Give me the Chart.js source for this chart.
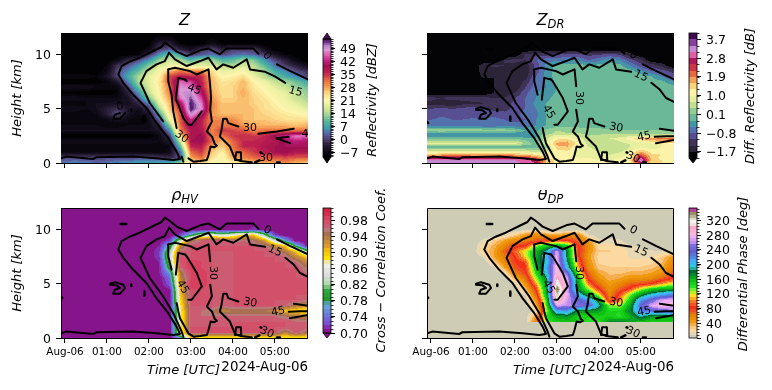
<!DOCTYPE html>
<html>
<head>
<meta charset="utf-8">
<style>
  html, body { margin: 0; background: #fff; }
  canvas { position: absolute; }
</style>
<script src="https://cdn.jsdelivr.net/npm/chart.js@4"></script>
</head>
<body>
<script>
// hours after 00:00 UTC, shared by all four fields
const times = [0, .25, .5, .75, 1, 1.25, 1.5, 1.75, 2, 2.25, 2.5, 2.75, 3, 3.25, 3.5, 3.75, 4, 4.25, 4.5, 4.75, 5, 5.25, 5.5, 5.75];
const timeTicks = [0, 1, 2, 3, 4, 5];
const timeLabels = ["Aug-06", "01:00", "02:00", "03:00", "04:00", "05:00"];
const heightTicks = [0, 5, 10];

const zHeights = [12, 11.5, 11, 10.5, 10, 9.5, 9, 8.5, 8, 7.5, 7, 6.5, 6, 5.5, 5, 4.5, 4, 3.5, 3, 2.5, 2, 1.5, 1, .5, 0];
const zValues = [
  [-9,-9,-9,-9,-9,-9,-9,-9,-9,-9,-9,-9,-9,-9,-9,-9,-9,-9,-9,-9,-9,-9,-9,-9],
  [-9,-9,-9,-9,-9,-9,-9,-9,-9,-7,-7,-9,-9,-9,-8,-9,-9,-9,-9,-9,-9,-9,-9,-9],
  [-9,-9,-9,-9,-9,-9,-9,-9,-9,-3,-3,-8,-9,-9,-6,-8,-8,-8,-8,-9,-9,-9,-9,-9],
  [-9,-9,-9,-9,-9,-9,-9,-9,-7,0,2,-3,-6,-1,1,-3,0,0,0,-6,-9,-9,-9,-9],
  [-9,-9,-9,-9,-9,-9,-9,-8,-1,6,12,7,0,2,4,1,3,4,3,0,-5,-8,-9,-9],
  [-9,-9,-9,-9,-9,-7,-2,1,6,13,17,14,9,14,14,9,10,14,12,6,1,-3,-7,-9],
  [-9,-9,-9,-9,-8,-1,2,6,12,17,19,19,17,18,17,15,14,17,15,10,4,0,-3,-6],
  [-9,-9,-9,-9,-7,1,5,10,16,20,27,31,29,30,24,18,19,21,16,14,8,5,1,-1],
  [-7,-7,-7,-8,-5,1,8,14,18,22,34,37,36,36,26,21,22,24,19,15,11,8,5,1],
  [-9,-9,-9,-9,-8,-4,5,14,18,23,34,46,44,37,27,23,24,27,22,19,16,14,11,8],
  [-6,-6,-6,-7,-7,-8,0,11,17,23,31,48,47,38,27,24,25,27,23,21,18,16,13,11],
  [-9,-9,-9,-9,-9,-8,-3,6,16,22,31,49,50,41,28,24,25,28,24,22,20,18,16,13],
  [-6,-6,-7,-7,-7,-7,-5,2,12,21,29,47,52,44,29,25,25,27,25,23,21,19,16,14],
  [-8,-8,-7,-6,-6,-5,-6,-2,5,18,27,40,54,47,30,26,26,27,25,24,22,20,18,16],
  [-6,-6,-7,-6,-3,-1,-4,-6,-1,14,26,36,54,48,30,26,26,27,26,24,23,21,20,18],
  [-8,-8,-8,-7,-3,2,-5,-7,-5,8,23,33,50,42,29,27,27,27,26,25,24,23,22,21],
  [-8,-8,-8,-8,-7,-5,-7,-8,-6,3,20,33,43,37,30,30,30,27,26,26,25,24,24,24],
  [-7,-7,-7,-7,-8,-8,-7,-7,-7,-2,13,32,41,37,30,31,31,29,28,27,27,27,26,27],
  [-6,-6,-6,-6,-6,-6,-6,-6,-6,-5,6,30,38,38,30,35,34,33,30,31,31,31,31,31],
  [-9,-9,-9,-9,-9,-9,-9,-9,-9,-7,0,24,38,40,31,31,35,36,35,36,40,43,47,46],
  [-6,-6,-6,-6,-6,-6,-6,-6,-6,-7,-4,16,39,40,32,27,32,36,36,37,38,40,42,41],
  [-8,-8,-8,-8,-8,-8,-8,-8,-8,-8,-7,10,36,37,28,25,31,36,36,38,39,40,40,40],
  [-7,-7,-7,-7,-7,-7,-7,-7,-7,-8,-6,3,32,35,26,22,30,32,35,37,39,40,38,38],
  [1,1,0,1,1,1,1,1,1,0,-2,2,28,32,24,20,28,30,32,33,33,34,33,33],
  [4,5,5,3,4,5,6,7,7,8,9,13,24,26,20,20,22,24,27,28,28,30,27,26]
];

const zdrHeights = [12, 10.5, 10, 9.5, 9, 8.5, 8, 7.5, 7, 6.5, 6, 5.5, 5, 4.5, 4, 3.5, 3, 2.75, 2.5, 2.25, 2, 1.75, 1.5, 1.25, 1, .75, .5, .25, 0];
const zdrValues = [
  [-2,-2,-2,-2,-2,-2,-2,-2,-2,-2,-2,-2,-2,-2,-2,-2,-2,-2,-2,-2,-2,-2,-2,-2],
  [-2,-2,-2,-2,-2,-2,-2,-2,-2,-2,-2,-2,-2,-2,-2,-2,-2,-2,-2,-2,-2,-2,-2,-2],
  [-2,-2,-2,-2,-2,-2,-2,-2,-2,-1.3,-1.2,-1.2,-1.1,-1,-1,-1.2,-1.1,-1,-1.1,-1.6,-2,-2,-2,-2],
  [-2,-2,-2,-2,-2,-2,-2,-1.4,-1.3,-1.4,-.8,-.6,-.6,-.5,-.5,-.8,-.6,-.3,-.5,-1,-1.3,-2,-2,-2],
  [-2,-2,-2,-2,-2,-1.5,-1.3,-1.4,-1.5,-1.6,-1,-.4,-.1,-.1,-.1,-.1,-.1,-.1,-.1,-.5,-1,-1.2,-1.5,-2],
  [-2,-2,-2,-2,-2,-1.5,-1.6,-1.7,-1.7,-1.6,-1,-.4,-.05,-.05,-.05,-.05,-.05,-.05,-.05,-.05,-.4,-.8,-1,-1.2],
  [-2,-2,-2,-2,-2,-1.6,-1.7,-1.7,-1.7,-1.6,-.8,-.4,-.05,-.05,-.05,-.05,-.05,-.05,-.05,-.05,-.05,-.2,-.5,-.9],
  [-2,-2,-2,-2,-2,-2,-1.7,-1.7,-1.7,-1.3,-.7,-.45,-.1,-.05,-.05,-.05,-.05,-.05,-.05,-.05,-.05,-.05,-.1,-.4],
  [-2,-2,-2,-2,-2,-2,-1.7,-1.7,-1.7,-1.1,-.6,-.5,-.2,-.05,-.05,-.05,-.05,-.05,-.05,-.05,-.05,-.05,-.05,-.05],
  [-2,-2,-2,-2,-2,-2,-1.7,-1.6,-1.4,-.9,-.5,-.4,-.15,-.05,-.05,-.05,-.05,-.05,-.05,-.05,-.05,-.05,-.05,-.05],
  [-1.3,-1.4,-1.2,-1.3,-1.2,-1.3,-1.4,-1.4,-1.1,-.8,-.5,-.3,-.05,-.05,-.05,-.05,-.05,-.05,-.05,-.05,-.05,-.05,-.05,-.05],
  [-1.5,-1.6,-1.7,-1.5,-1.5,-1.4,-1.3,-1.3,-1,-.8,-.4,-.2,-.05,-.05,-.05,-.05,-.05,-.05,-.05,-.05,-.05,-.05,-.05,-.05],
  [-1.1,-1,-1.1,-1,-.9,-1,-1.2,-1.2,-1,-.8,-.5,-.2,-.05,-.05,-.05,-.05,-.05,-.05,-.05,-.05,-.05,-.05,-.05,-.05],
  [-1,-.9,-.9,-1,-1.1,-.9,-.9,-1,-1,-.6,-.6,-.2,-.05,-.05,-.05,-.05,-.05,-.05,-.05,-.05,-.05,-.05,-.05,-.05],
  [-.8,-.7,-.8,-.8,-.7,-.8,-.7,-.8,-.9,-.8,-.5,-.2,-.05,-.05,-.05,-.05,-.05,-.05,-.05,-.05,-.05,-.05,-.05,-.05],
  [-.7,-.8,-.7,-.7,-.7,-.8,-.8,-.7,-.7,-.7,-.5,-.2,-.05,-.05,-.05,-.05,-.05,-.05,-.05,-.05,-.05,-.05,-.05,-.05],
  [.3,.35,.3,.3,.3,.3,.3,.3,.1,-.2,-.3,.2,.4,.3,.3,.2,.2,.15,.1,.1,.1,.1,.1,.1],
  [-.3,-.3,-.3,-.3,-.3,-.3,-.3,-.3,-.3,-.3,-.2,.2,.5,.4,.4,.3,.3,.3,.3,.3,.3,.3,.3,.3],
  [-.4,-.4,-.4,-.4,-.4,-.4,-.4,-.4,-.4,-.4,-.3,.5,.9,.9,.7,.4,.5,.55,.6,.6,.7,.7,.7,.7],
  [.1,.1,.1,.1,.1,.1,.1,.1,.1,-.1,-.2,.6,1.2,1.2,.9,.5,.6,.7,.8,1.2,1.6,1.9,2,2.1],
  [.5,.5,.5,.5,.5,.5,.5,.5,.5,.2,-.1,.7,1.5,1.6,1.1,.5,.5,.55,.7,.9,1.1,1.4,1.5,1.6],
  [.9,.9,.9,.9,.9,.9,.9,.9,.9,.3,0,.6,1.7,1.7,1.2,.6,.5,.5,.6,.7,.8,.9,1,1.1],
  [-.3,-.3,-.3,-.3,-.3,-.3,-.3,-.3,-.3,-.2,-.1,.3,1.5,1.6,1,.7,.5,.5,.5,.7,.9,.8,1,1],
  [.4,.4,.4,.4,.4,.4,.4,.4,.4,.4,.3,.5,1.3,1.4,1,.8,.6,.5,.5,.8,1.3,1,1.1,1],
  [1,1,1,1,1,1,1,1,1,.9,.7,.8,1.1,1.2,.9,.8,.7,.6,.7,1,1.7,1.2,1.2,1.2],
  [1.5,1.7,1.9,1.8,1.7,1.7,1.7,1.8,1.7,1.6,1.3,1,1,1.1,.9,.8,.8,.7,.8,1.1,2.2,1.4,1.3,1.3],
  [2.3,2.5,2.6,2.5,2.5,2.4,2.4,2.5,2.5,2.4,2,1.2,1.1,1.1,1,1,.9,.8,1,1.2,2.8,1.5,1.2,1.2],
  [3.1,3.1,3.1,3.1,3.1,3.1,3.1,3.1,3.1,3,2.6,1.6,1.2,1.2,1.1,1.1,1,1,1.1,1.3,3.3,1.5,1.3,1.2],
  [3.2,3.2,3.2,3.2,3.2,3.2,3.2,3.2,3.2,3,2.8,1.5,1.2,1.2,1.1,1.1,1,1,1.1,1.2,2.5,1.4,1.3,1.2]
];

// rho in hundredths
const rhoHeights = [12, 10.5, 10, 9.5, 9, 8.5, 8, 7.5, 7, 6.5, 6, 5.5, 5, 4.5, 4, 3.5, 3, 2.5, 2, 1.5, 1, .5, 0];
const rhoValues = [
  [70,70,70,70,70,70,70,70,70,70,70,70,70,70,70,70,70,70,70,70,70,70,70,70],
  [70,70,70,70,70,70,70,70,70,70,70,70,70,70,70,70,70,70,70,70,70,70,70,70],
  [70,70,70,70,70,70,70,70,70,70,70,70,70,70,70,70,70,70,72,70,70,70,70,70],
  [70,70,70,70,70,70,70,70,70,70,70,72,78,84,86,84,86,90,90,82,72,70,70,70],
  [70,70,70,70,70,70,70,70,70,70,72,84,94,96,97,96,95,96,95,92,84,76,70,70],
  [70,70,70,70,70,70,70,70,70,71,78,93,97,97,97,97,97,97,97,96,93,90,78,71],
  [70,70,70,70,70,70,70,70,70,72,82,96,97,97,97,97,97,97,97,97,96,94,90,82],
  [70,70,70,70,70,70,70,70,70,72,84,97,97,97,97,96,97,97,97,97,97,96,93,90],
  [70,70,70,70,70,70,70,70,70,71,82,97,99,98,97,97,97,97,97,97,97,97,96,93],
  [70,70,70,70,70,70,70,70,70,71,80,96,99,98,97,96,97,97,97,97,97,97,97,95],
  [70,70,70,70,70,70,70,70,70,71,76,94,98,99,97,96,97,97,97,97,97,97,97,96],
  [70,70,70,70,70,70,70,70,70,70,74,93,98,99,97,96,97,97,97,97,97,97,97,97],
  [70,70,70,70,70,70,70,70,70,70,73,92,99,99,97,96,97,97,97,97,97,97,97,97],
  [70,70,70,70,70,70,70,70,70,70,71,90,98,98,97,96,97,97,97,97,97,97,97,97],
  [70,70,70,70,70,70,70,70,70,70,70,90,97,97,97,96,97,97,97,97,97,97,97,97],
  [70,70,70,70,70,70,70,70,70,70,70,89,97,97,97,96,97,97,97,97,97,97,97,96],
  [70,70,70,70,70,70,70,70,70,70,70,88,97,97,97,96,97,97,97,97,97,96,94,92],
  [70,70,70,70,70,70,70,70,70,70,70,87,97,96,95,93,94,94,94,94,93,90,89,88],
  [70,70,70,70,70,70,70,70,70,70,70,87,97,96,96,96,96,96,96,96,96,95,94,93],
  [70,70,70,70,70,70,70,70,70,70,70,87,97,96,96,96,97,97,97,97,97,97,96,96],
  [70,70,70,70,70,70,70,70,70,70,70,87,97,97,97,97,97,97,97,97,97,97,97,97],
  [70,70,70,70,70,70,70,70,70,70,70,87,97,97,97,97,97,97,97,97,97,93,97,94],
  [70,70,70,70,70,70,70,70,70,70,70,76,89,87,88,88,88,88,88,88,88,88,88,88]
];

const phiHeights = [12, 10.5, 10, 9.5, 9, 8.5, 8, 7.5, 7, 6.5, 6, 5.5, 5, 4.5, 4, 3.5, 3, 2.5, 2, 1.5, 1.44, 0];
const phiValues = [
  [0,0,0,0,0,0,0,0,0,0,0,0,0,0,0,0,0,0,0,0,0,0,0,0],
  [0,0,0,0,0,0,0,0,0,0,0,0,0,0,0,0,0,0,0,0,0,0,0,0],
  [0,0,0,0,0,0,0,0,0,5,10,0,0,0,0,0,0,0,0,0,0,0,0,0],
  [0,0,0,0,0,0,0,10,25,45,55,45,40,50,55,10,0,0,0,0,0,0,0,0],
  [0,0,0,0,0,10,25,40,55,60,70,80,90,85,70,45,10,10,10,0,0,0,0,0],
  [0,0,0,0,0,20,35,55,80,85,130,150,165,150,85,55,20,20,15,10,5,0,0,0],
  [0,0,0,0,0,25,40,70,95,120,155,190,270,175,90,50,25,25,20,15,10,10,8,5],
  [0,0,0,0,0,10,40,60,85,115,160,205,275,175,90,45,20,20,20,15,15,15,25,45],
  [0,0,0,0,0,0,25,55,80,90,165,195,280,185,100,50,22,20,18,18,18,20,30,55],
  [0,0,0,0,0,0,5,40,75,85,150,210,285,200,110,55,28,25,25,25,25,30,40,60],
  [0,0,0,0,0,0,0,15,60,80,140,200,290,245,130,70,40,30,30,35,35,40,50,70],
  [0,0,0,0,0,0,0,0,35,65,125,180,305,265,160,80,50,35,40,50,50,55,70,85],
  [0,0,0,0,0,0,0,0,5,50,105,170,320,270,170,100,65,45,55,70,75,85,105,120],
  [0,0,0,0,0,0,0,0,0,30,85,165,350,265,175,130,85,50,70,90,125,150,160,165],
  [0,0,0,0,0,0,0,0,0,10,70,160,330,275,205,165,120,55,90,130,170,195,210,225],
  [0,0,0,0,0,0,0,0,0,0,50,145,320,265,240,215,170,65,100,150,215,240,270,275],
  [0,0,0,0,0,0,0,0,0,0,35,135,270,260,250,240,190,130,125,165,235,270,285,285],
  [0,0,0,0,0,0,0,0,0,0,10,125,210,215,170,170,165,145,145,175,220,230,240,250],
  [0,0,0,0,0,0,0,0,0,0,40,140,165,170,150,145,150,150,140,160,190,170,165,165],
  [0,0,0,0,0,0,0,0,0,0,60,130,150,155,150,140,140,170,175,165,155,150,150,150],
  [0,0,0,0,0,0,0,0,0,0,0,0,0,0,0,0,0,0,0,0,0,0,0,0],
  [0,0,0,0,0,0,0,0,0,0,0,0,0,0,0,0,0,0,0,0,0,0,0,0]
];

// reflectivity contours as [hour, km], same in every panel
const contour0 = [[-.09,.43],[.03,.59],[.67,.37],[.75,.53],[1.62,.59],[2.18,.43],[2.58,.28],[2.74,.37],[2.66,1.05],[2.46,2.29],[2.18,3.68],[1.94,5.08],[1.62,6.32],[1.39,7.4],[1.27,8.17],[1.35,8.95],[1.54,9.35],[1.78,9.72],[2.1,10.34],[2.3,10.71],[2.38,11.11],[2.5,10.8],[2.66,10.28],[2.9,9.88],[3.22,10.4],[3.42,10.56],[3.69,10.03],[3.85,10.56],[4.17,10.56],[4.49,10.56],[4.61,10.09],[4.83,9.9],[5.05,9.1],[5.37,8.48],[5.8,7.7]];
const contour0Blob = [[1.07,5.02],[1.19,5.14],[1.39,4.92],[1.43,4.61],[1.31,4.09],[1.15,4.09],[1.19,4.46],[1.31,4.61],[1.23,4.86],[1.07,4.92]];
const contour0Dots = [[[1.33,10.53],[1.46,10.53]], [[1.89,4.3],[1.89,3.9]], [[1.58,4.95],[1.58,4.8]], [[-.09,3.8],[-.07,3.7]]];
const contour15 = [[2.82,.12],[2.78,.59],[2.58,2.29],[2.34,3.84],[2.02,5.54],[1.8,7.4],[1.94,8.48],[2.18,9.1],[2.38,9.41],[2.48,10.19],[2.62,9.57],[2.9,8.95],[3.22,9.41],[3.42,9.72],[3.61,8.64],[3.77,9.1],[4.01,8.79],[4.33,9.57],[4.41,8.64],[4.77,8.42],[5,8],[5.25,7.4],[5.45,6.78],[5.6,6],[5.8,5.63]];
const contour30 = [[2.46,8.64],[2.62,8.79],[2.98,8.48],[3.14,8.17],[3.42,8.64],[3.46,7.09],[3.48,6],[3.46,4.92],[3.5,3.84],[3.38,2.91],[3.5,2.45],[3.57,1.75],[3.62,1.6],[3.55,1.45],[3.47,1.52],[3.42,.74],[3.38,.28],[3.22,.19],[3.06,.12],[2.94,.43],[2.74,1.83],[2.7,2.45],[2.66,3.22],[2.58,4.77],[2.54,6.3],[2.46,7.55],[2.46,8.64]];
const contour30East = [[4.45,.06],[4.17,.19],[4.05,.37],[3.93,1.52],[3.69,2.45],[3.73,3.07],[3.77,4.09],[3.85,4.09],[3.89,3.68],[4.13,3.37]];
const contour30Loop = [[4.05,.28],[4.08,.99],[4.19,.99],[4.2,.28],[4.05,.28]];
const contour30Upper = [[4.61,2.69],[5.05,2.91],[5.45,3.16],[5.8,2.97]];
const contour30Dots = [[[4.53,.06],[4.63,.25]], [[4.66,.99],[4.68,.95]], [[5.05,.05],[5.12,.05]]];
const contour45 = [[2.86,7.71],[2.7,7.86],[2.64,5.85],[2.7,5.39],[2.82,4.15],[2.94,3.53],[3.02,3.53],[3.26,4.77],[3.14,6],[3.02,6.78],[2.9,7.55],[2.86,7.71]];
const contour45East = [[5.04,2.29],[5.33,2.42],[5.6,2.48],[5.8,2.47]];
const contour45EastLow = [[5.8,2.13],[5.36,1.83],[5.04,2.29]];

// inline contour labels: [hour, km, text, rotation]
const labelsReflectivity = [[1.31,5.19,"0",-5],[1.88,4,"0",0],[4.81,9.88,"0",50],[5.49,6.57,"15",15],[3.08,6.79,"45",20],[2.78,2.4,"30",35],[4.41,3.24,"30",0],[4.79,.46,"30",0],[5.8,2.62,"45",0]];
const labelsOther = [[4.82,9.95,"0",30],[5,8.02,"15",25],[3.53,6,"30",90],[2.8,4.7,"45",60],[4.41,3.25,"30",12],[5.08,2.42,"45",-12],[4.81,.5,"30",25]];

const zTicks = [-7, 0, 7, 14, 21, 28, 35, 42, 49];
const zTickLabels = ["\u22127", "0", "7", "14", "21", "28", "35", "42", "49"];
const zdrTicks = [-1.7, -.8, .1, 1, 1.9, 2.8, 3.7];
const zdrTickLabels = ["\u22121.7", "\u22120.8", "0.1", "1.0", "1.9", "2.8", "3.7"];
const rhoTicks = [70, 74, 78, 82, 86, 90, 94, 98];
const rhoTickLabels = ["0.70", "0.74", "0.78", "0.82", "0.86", "0.90", "0.94", "0.98"];
const phiTicks = [0, 40, 80, 120, 160, 200, 240, 280, 320];
const phiTickLabels = ["0", "40", "80", "120", "160", "200", "240", "280", "320"];

const zStops = [[-9,"#020104"],[-5,"#1c1428"],[-2,"#352a48"],[0,"#4e4270"],[2,"#5a5a9c"],[4,"#4f7fb0"],[6,"#3d9fae"],[9,"#55b59a"],[12,"#8ecb98"],[15,"#c4e093"],[18,"#eaf0a2"],[21,"#fdf5ad"],[24,"#fcdc8a"],[27,"#f9b060"],[30,"#ee7f45"],[33,"#da4f45"],[36,"#bd2050"],[39,"#a01050"],[42,"#c02080"],[45,"#de5fb0"],[48,"#d99ad8"],[50,"#b883c8"],[52,"#6a2f85"],[54.5,"#3a0a4e"]];
const zdrStops = [[-2,"#040306"],[-1.7,"#2c2438"],[-1.4,"#3f3358"],[-1.1,"#574f92"],[-.8,"#5273ad"],[-.5,"#4496a5"],[-.2,"#6bb899"],[.1,"#93cd96"],[.4,"#c5e08f"],[.7,"#e8ef9f"],[1,"#fdf3a8"],[1.3,"#fbd37c"],[1.6,"#f5a058"],[1.9,"#e86a3f"],[2.2,"#cf3548"],[2.5,"#b01a5a"],[2.8,"#e060a8"],[3.1,"#c48ad0"],[3.4,"#8a3f9e"],[3.7,"#3f0a52"],[4,"#3f0a52"]];
const rhoStops = [[70,"#86148a"],[71,"#8030b0"],[72,"#7a50d0"],[74,"#6a78d8"],[76,"#6aa0d8"],[77,"#4fa0a0"],[78,"#22962e"],[80,"#2ea83c"],[81,"#7cc47c"],[82,"#b4dab4"],[84,"#dcdcdc"],[86,"#eeeee4"],[87,"#f0e8a0"],[88,"#ffe000"],[90,"#f0bc10"],[91,"#d89c30"],[93,"#b88040"],[94,"#a87050"],[95,"#b87878"],[96,"#cc5c72"],[97,"#d25069"],[98,"#d84060"],[99,"#d42c4c"],[101,"#c81e38"]];
const phiStops = [[0,"#cfccb6"],[8,"#e6d8b4"],[16,"#fcd9a0"],[24,"#fbc884"],[32,"#f6ad4c"],[40,"#f09a10"],[56,"#e88000"],[64,"#e86818"],[72,"#f04a20"],[80,"#f53018"],[96,"#f47a2a"],[104,"#ffb020"],[112,"#ffe020"],[120,"#b8f020"],[128,"#70f030"],[136,"#20e020"],[152,"#10c010"],[168,"#008830"],[176,"#006830"],[184,"#20b0a0"],[192,"#30c8e8"],[208,"#48a8f8"],[216,"#5088e8"],[232,"#6060d0"],[248,"#8070e0"],[256,"#c090f0"],[272,"#eeb0f0"],[280,"#f8b8d8"],[296,"#f8a8c8"],[304,"#f4e0e0"],[312,"#f4f4ec"],[320,"#dcdcc8"],[328,"#b8b498"],[336,"#a09068"],[344,"#b04898"],[354,"#c410a0"]];

const FONT = "'DejaVu Sans'";

function makeColormap(stops, step) {
  const rgb = stops.map((s) => [s[0], parseInt(s[1].slice(1, 3), 16), parseInt(s[1].slice(3, 5), 16), parseInt(s[1].slice(5, 7), 16)]);
  const base = stops[0][0];
  const cache = {};
  return function (v) {
    const k = Math.floor((v - base) / step + 1e-6);
    if (cache[k]) return cache[k];
    const q = base + k * step;
    let i = 0;
    while (i < rgb.length - 2 && q > rgb[i + 1][0]) i++;
    let f = (q - rgb[i][0]) / (rgb[i + 1][0] - rgb[i][0]);
    f = Math.max(0, Math.min(1, f));
    const c = [1, 2, 3].map((n) => Math.round(rgb[i][n] + (rgb[i + 1][n] - rgb[i][n]) * f));
    cache[k] = "rgb(" + c.join(",") + ")";
    return cache[k];
  };
}

// find bracketing index and fraction in an ascending list
function bracket(list, v) {
  if (v <= list[0]) return [0, 0];
  const last = list.length - 1;
  if (v >= list[last]) return [last - 1, 1];
  let i = 0;
  while (list[i + 1] < v) i++;
  return [i, (v - list[i]) / (list[i + 1] - list[i])];
}

// filled field, read through the chart's own scales
const fieldPlugin = {
  id: "field",
  beforeDatasetsDraw(chart, args, opts) {
    if (!opts.rows) return;
    const { ctx, chartArea: a, scales } = chart;
    const heights = opts.heights.slice().reverse();
    const rows = opts.rows.slice().reverse();
    for (let py = a.top; py < a.bottom; py++) {
      const [r, fy] = bracket(heights, scales.y.getValueForPixel(py + 0.5));
      for (let px = a.left; px < a.right; px++) {
        const [c, fx] = bracket(times, scales.x.getValueForPixel(px + 0.5));
        const v0 = rows[r][c] + (rows[r][c + 1] - rows[r][c]) * fx;
        const v1 = rows[r + 1][c] + (rows[r + 1][c + 1] - rows[r + 1][c]) * fx;
        ctx.fillStyle = opts.color(v0 + (v1 - v0) * fy);
        ctx.fillRect(px, py, 1, 1);
      }
    }
  },
};

function drawRun(ctx, x, y, text, font) {
  ctx.font = font;
  ctx.fillText(text, x, y);
  return x + ctx.measureText(text).width;
}

function drawTitle(ctx, cx, baseline, main, sub) {
  const mainFont = "italic 16px " + FONT;
  const subFont = "italic 11.5px " + FONT;
  ctx.font = mainFont;
  const w1 = ctx.measureText(main).width;
  ctx.font = subFont;
  const w2 = ctx.measureText(sub).width;
  ctx.textAlign = "left";
  ctx.textBaseline = "alphabetic";
  const x = drawRun(ctx, cx - (w1 + w2) / 2, baseline, main, mainFont);
  if (sub) drawRun(ctx, x, baseline + 3, sub, subFont);
}

// tick text on the baseline so digits sit centred on the tick
function drawTickText(ctx, x, y, text, align) {
  ctx.font = "12.5px " + FONT;
  ctx.textAlign = align;
  ctx.textBaseline = "alphabetic";
  ctx.fillText(text, x, y + 4.5);
}

// axis frame, contour labels and axis texts
const panelTextPlugin = {
  id: "panelText",
  afterDatasetsDraw(chart, args, opts) {
    if (!opts.title) return;
    const { ctx, chartArea: a, scales } = chart;
    ctx.save();
    ctx.strokeStyle = "#000";
    ctx.lineWidth = 1;
    ctx.beginPath();
    ctx.moveTo(a.left, a.bottom + 0.5);
    ctx.lineTo(a.right, a.bottom + 0.5);
    if (opts.fullFrame) {
      ctx.moveTo(a.left + 0.5, a.bottom);
      ctx.lineTo(a.left + 0.5, a.top + 0.5);
      ctx.lineTo(a.right - 0.5, a.top + 0.5);
      ctx.lineTo(a.right - 0.5, a.bottom);
    }
    ctx.stroke();

    ctx.save();
    ctx.beginPath();
    ctx.rect(a.left, a.top, a.right - a.left, a.bottom - a.top);
    ctx.clip();
    ctx.fillStyle = "#000";
    ctx.font = "11px " + FONT;
    ctx.textAlign = "center";
    ctx.textBaseline = "middle";
    opts.contourLabels.forEach((l) => {
      ctx.save();
      ctx.translate(scales.x.getPixelForValue(l[0]), scales.y.getPixelForValue(l[1]));
      ctx.rotate((l[3] * Math.PI) / 180);
      ctx.fillText(l[2], 0, 0);
      ctx.restore();
    });
    ctx.restore();

    ctx.fillStyle = "#000";
    const cx = (a.left + a.right) / 2;
    drawTitle(ctx, cx, a.top - 8, opts.title[0], opts.title[1]);
    if (opts.yLabel) {
      heightTicks.forEach((v) => drawTickText(ctx, a.left - 10, scales.y.getPixelForValue(v), String(v), "right"));
    }
    ctx.textBaseline = "middle";
    ctx.textAlign = "center";
    if (opts.yLabel) {
      ctx.save();
      ctx.translate(a.left - 43, (a.top + a.bottom) / 2);
      ctx.rotate(-Math.PI / 2);
      ctx.font = "italic 13px " + FONT;
      ctx.fillText(opts.yLabel, 0, 0);
      ctx.restore();
    }
    if (opts.xLabel) {
      ctx.font = "italic 13px " + FONT;
      ctx.fillText(opts.xLabel, cx - 1, a.bottom + 33);
      ctx.font = "13.4px " + FONT;
      ctx.textAlign = "right";
      ctx.fillText(opts.offsetText, a.right, a.bottom + 30);
    }
    ctx.restore();
  },
};

// colour bands, end arrows, comb of minor ticks, tick text, rotated label
const colorbarPlugin = {
  id: "colorbar",
  afterDraw(chart, args, opts) {
    if (!opts.color) return;
    const { ctx, chartArea: a, scales } = chart;
    const y = scales.y;
    ctx.save();
    for (let py = a.top; py < a.bottom; py++) {
      ctx.fillStyle = opts.color(y.getValueForPixel(py + 0.5));
      ctx.fillRect(a.left, py, a.right - a.left, 1);
    }
    const mid = (a.left + a.right) / 2;
    ctx.strokeStyle = "#000";
    ctx.lineWidth = 0.8;
    const arrow = (base, tip, fill) => {
      ctx.fillStyle = fill;
      ctx.beginPath();
      ctx.moveTo(a.left, base);
      ctx.lineTo(mid, tip);
      ctx.lineTo(a.right, base);
      ctx.closePath();
      ctx.fill();
      ctx.stroke();
    };
    if (opts.arrowTop) arrow(a.top, a.top - opts.arrowTop, opts.color(y.max));
    if (opts.arrowBottom) arrow(a.bottom, a.bottom + opts.arrowBottom, opts.color(y.min));
    ctx.strokeRect(a.left, a.top, a.right - a.left, a.bottom - a.top);
    ctx.beginPath();
    for (let v = opts.minorStart; v <= y.max; v += opts.minorStep) {
      const py = Math.round(y.getPixelForValue(v)) + 0.5;
      ctx.moveTo(a.right, py);
      ctx.lineTo(a.right + 2.5, py);
    }
    ctx.stroke();
    ctx.fillStyle = "#000";
    opts.ticks.forEach((v, i) => drawTickText(ctx, a.right + 9, y.getPixelForValue(v), opts.tickLabels[i], "left"));
    ctx.translate(opts.labelX, opts.labelY);
    ctx.rotate(-Math.PI / 2);
    ctx.textAlign = "center";
    ctx.textBaseline = "middle";
    ctx.font = "italic 13px " + FONT;
    ctx.fillText(opts.label, 0, 0);
    ctx.restore();
  },
};

Chart.register(fieldPlugin, panelTextPlugin, colorbarPlugin);

function addCanvas(left, top, w, h) {
  const c = document.createElement("canvas");
  c.width = w;
  c.height = h;
  c.style.left = left + "px";
  c.style.top = top + "px";
  c.style.width = w + "px";
  c.style.height = h + "px";
  document.body.appendChild(c);
  return c.getContext("2d");
}

// split a contour where an inline label sits over it
function cutForLabels(points, labels) {
  const pieces = [];
  let current = [];
  points.forEach((p) => {
    const hit = labels.some((l) => {
      const dx = (p[0] - l[0]) * 42;
      const dy = (p[1] - l[1]) * 10.8;
      return Math.hypot(dx, dy) < (l[2].length > 1 ? 9.5 : 6);
    });
    if (hit) {
      if (current.length) pieces.push(current);
      current = [];
    } else {
      current.push(p);
    }
  });
  if (current.length) pieces.push(current);
  return pieces.filter((piece) => piece.length > 1);
}

function contourDatasets(labels) {
  const lines = [contour0, contour0Blob, contour15, contour30, contour30East, contour30Loop, contour30Upper, contour45, contour45East, contour45EastLow];
  const out = [];
  lines.forEach((line) => {
    cutForLabels(line, labels).forEach((piece) => {
      out.push({ data: piece.map((p) => ({ x: p[0], y: p[1] })), showLine: true, borderColor: "#000", borderWidth: 2, pointRadius: 0, tension: 0, borderCapStyle: "round", borderJoinStyle: "round" });
    });
  });
  contour0Dots.concat(contour30Dots).forEach((piece) => {
    out.push({ data: piece.map((p) => ({ x: p[0], y: p[1] })), showLine: true, borderColor: "#000", borderWidth: 2.5, pointRadius: 0, borderCapStyle: "round" });
  });
  return out;
}

function makePanel(p) {
  const ctx = addCanvas(p.left, p.top, p.width, p.height);
  new Chart(ctx, {
    type: "scatter",
    data: { datasets: contourDatasets(p.contourLabels) },
    options: {
      responsive: false,
      animation: false,
      layout: { padding: { top: p.area[1] - p.top, right: p.left + p.width - p.area[2], left: 0, bottom: 0 } },
      plugins: {
        legend: { display: false },
        tooltip: { enabled: false },
        field: { rows: p.rows, heights: p.heights, color: p.color },
        panelText: { title: p.title, fullFrame: p.fullFrame, contourLabels: p.contourLabels, yLabel: p.yLabel, xLabel: p.xLabel, offsetText: p.offsetText },
      },
      scales: {
        x: {
          type: "linear",
          min: -0.095,
          max: 5.79,
          border: { display: false },
          grid: { drawOnChartArea: false, drawTicks: true, tickLength: 5, color: "#000" },
          afterBuildTicks: (s) => { s.ticks = timeTicks.map((v) => ({ value: v })); },
          afterFit: (s) => { s.height = p.top + p.height - p.area[3]; },
          ticks: {
            autoSkip: false,
            maxRotation: 0,
            padding: 3,
            color: "#000",
            font: { family: "DejaVu Sans", size: 10.4 },
            callback: (v, i) => (p.xLabel ? timeLabels[i] : ""),
          },
        },
        y: {
          min: 0,
          max: 12,
          border: { display: false },
          grid: { drawOnChartArea: false, drawTicks: true, tickLength: 5, color: "#000" },
          afterBuildTicks: (s) => { s.ticks = heightTicks.map((v) => ({ value: v })); },
          afterFit: (s) => { s.width = p.area[0] - p.left; },
          ticks: { callback: () => "" },
        },
      },
    },
  });
}

function makeColorbar(b) {
  const ctx = addCanvas(b.left, b.top, b.width, b.height);
  new Chart(ctx, {
    type: "scatter",
    data: { datasets: [] },
    options: {
      responsive: false,
      animation: false,
      layout: { padding: { top: b.barTop - b.top, bottom: b.top + b.height - b.barBottom, left: b.barLeft - b.left, right: 0 } },
      plugins: {
        legend: { display: false },
        tooltip: { enabled: false },
        colorbar: {
          color: b.color,
          arrowTop: b.arrowTop,
          arrowBottom: b.arrowBottom,
          minorStart: b.minorStart,
          minorStep: b.minorStep,
          ticks: b.ticks,
          tickLabels: b.tickLabels,
          label: b.label,
          labelX: b.labelX - b.left,
          labelY: b.labelY - b.top,
        },
      },
      scales: {
        x: { display: false, min: 0, max: 1 },
        y: {
          position: "right",
          min: b.min,
          max: b.max,
          border: { display: false },
          grid: { drawOnChartArea: false, drawTicks: true, tickLength: 4, color: "#000" },
          afterBuildTicks: (s) => { s.ticks = b.ticks.map((v) => ({ value: v })); },
          afterFit: (s) => { s.width = b.left + b.width - b.barLeft - 8; },
          ticks: { autoSkip: false, callback: () => "" },
        },
      },
    },
  });
}

const cmapZ = makeColormap(zStops, 1);
const cmapZdr = makeColormap(zdrStops, 0.3);
const cmapRho = makeColormap(rhoStops, 1);
const cmapPhi = makeColormap(phiStops, 8);

makePanel({ left: 0, top: 0, width: 318, height: 190, area: [61, 33, 308, 163], rows: zValues, heights: zHeights, color: cmapZ, title: ["Z", ""], fullFrame: false, contourLabels: labelsReflectivity, yLabel: "Height [km]" });
makePanel({ left: 384, top: 0, width: 300, height: 190, area: [427, 33, 674, 163], rows: zdrValues, heights: zdrHeights, color: cmapZdr, title: ["Z", "DR"], fullFrame: false, contourLabels: labelsOther });
makePanel({ left: 0, top: 190, width: 318, height: 200, area: [61, 208, 308, 338], rows: rhoValues, heights: rhoHeights, color: cmapRho, title: ["\u03c1", "HV"], fullFrame: true, contourLabels: labelsOther, yLabel: "Height [km]", xLabel: "Time [UTC]", offsetText: "2024-Aug-06" });
makePanel({ left: 384, top: 190, width: 300, height: 200, area: [427, 208, 674, 338], rows: phiValues, heights: phiHeights, color: cmapPhi, title: ["\u03b8", "DP"], fullFrame: true, contourLabels: labelsOther, xLabel: "Time [UTC]", offsetText: "2024-Aug-06" });

makeColorbar({ left: 318, top: 0, width: 66, height: 170, barLeft: 323, barTop: 39, barBottom: 157, min: -9.3, max: 54.2, ticks: zTicks, tickLabels: zTickLabels, color: cmapZ, arrowTop: 6, arrowBottom: 6, minorStart: -9, minorStep: 1, label: "Reflectivity [dBZ]", labelX: 373, labelY: 100 });
makeColorbar({ left: 684, top: 0, width: 88, height: 178, barLeft: 689, barTop: 33, barBottom: 158, min: -2, max: 4, ticks: zdrTicks, tickLabels: zdrTickLabels, color: cmapZdr, arrowBottom: 5, minorStart: -2, minorStep: 0.3, label: "Diff. Reflectivity [dB]", labelX: 751, labelY: 96 });
makeColorbar({ left: 318, top: 170, width: 72, height: 220, barLeft: 323, barTop: 208, barBottom: 333, min: 70, max: 101, ticks: rhoTicks, tickLabels: rhoTickLabels, color: cmapRho, arrowBottom: 5, minorStart: 70, minorStep: 1, label: "Cross \u2212 Correlation Coef.", labelX: 381.5, labelY: 270 });
makeColorbar({ left: 684, top: 178, width: 88, height: 212, barLeft: 689, barTop: 208, barBottom: 338, min: 0, max: 354, ticks: phiTicks, tickLabels: phiTickLabels, color: cmapPhi, minorStart: 0, minorStep: 8, label: "Differential Phase [deg]", labelX: 744, labelY: 274 });
</script>
</body>
</html>
